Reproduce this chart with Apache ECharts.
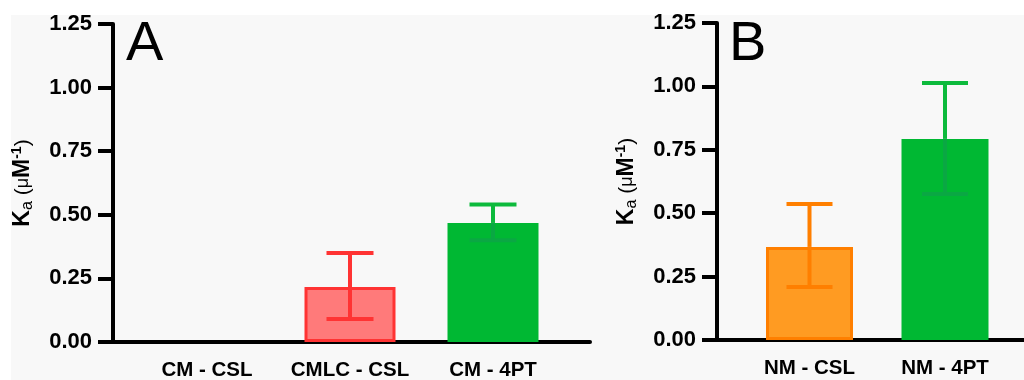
<!DOCTYPE html>
<html>
<head>
<meta charset="utf-8">
<script src="https://cdn.jsdelivr.net/npm/echarts@6/dist/echarts.min.js"></script>
<style>
html,body{margin:0;padding:0;background:#ffffff;}
#c{width:1024px;height:380px;}
</style>
</head>
<body>
<div id="c"></div>
<script>
// ---- data ----
const categoriesA = ['CM - CSL', 'CMLC - CSL', 'CM - 4PT'];
const valuesA     = [null, 0.216, 0.468];
const errLowA     = [null, 0.090, 0.400];
const errHighA    = [null, 0.350, 0.540];

const categoriesB = ['NM - CSL', 'NM - 4PT'];
const valuesB     = [0.367, 0.793];
const errLowB     = [0.209, 0.576];
const errHighB    = [0.536, 1.013];

const yTicks = { min: 0, max: 1.25, interval: 0.25 };

// ---- styles ----
const fillA   = ['#ff7a7a', '#ff7a7a', '#00b833'];
const borderA = ['#ff3333', '#ff3333', '#00b833'];
const errUpA  = ['#ff3333', '#ff3333', '#0dba3c'];
const errDnA  = ['#ff3333', '#ff3333', '#0aa843'];
const fillB   = ['#ff9b22', '#00b833'];
const borderB = ['#ff7f00', '#00b833'];
const errUpB  = ['#ff7f00', '#0dba3c'];
const errDnB  = ['#ff7f00', '#0aa843'];

const FONT = '"Liberation Sans", Arial, Helvetica, sans-serif';

function yAxisVisible(gi) {
  return {
    type: 'value', gridIndex: gi, min: yTicks.min, max: yTicks.max, interval: yTicks.interval,
    axisLine: { show: true, lineStyle: { color: '#000', width: 4 } },
    axisTick: { show: true, length: 15, lineStyle: { color: '#000', width: 4 } },
    axisLabel: { show: true, margin: 21, color: '#000', fontSize: 22, fontWeight: 'bold', fontFamily: FONT,
      formatter: v => v.toFixed(2) },
    splitLine: { show: false },
    name: '{k|K}{sub|a}{p| (}{mu|μ}{k|M}{sup|-1}{p|)}',
    nameLocation: 'middle', nameRotate: 90, nameGap: 77,
    nameTextStyle: {
      color: '#000', fontFamily: FONT,
      rich: {
        k:   { fontSize: 23, fontWeight: 'bold', fontFamily: FONT, color: '#000', lineHeight: 26, verticalAlign: 'middle' },
        sub: { fontSize: 16, fontFamily: FONT, color: '#000', lineHeight: 26, verticalAlign: 'bottom', padding: [10, 0, 0, 0] },
        p:   { fontSize: 21, fontFamily: FONT, color: '#000', lineHeight: 26, verticalAlign: 'middle' },
        mu:  { fontSize: 18, fontFamily: FONT, color: '#000', lineHeight: 26, verticalAlign: 'middle' },
        sup: { fontSize: 14, fontWeight: 'bold', fontFamily: FONT, color: '#000', lineHeight: 26, verticalAlign: 'top', padding: [0, 0, 8, 0] }
      }
    }
  };
}
function yAxisHidden(gi) {
  return { type: 'value', gridIndex: gi, min: yTicks.min, max: yTicks.max, interval: yTicks.interval, show: false };
}
function xAxisLine(gi) {
  return { type: 'value', gridIndex: gi, min: 0, max: 1,
    axisLine: { show: true, onZero: false, lineStyle: { color: '#000', width: 4 } },
    axisTick: { show: false }, axisLabel: { show: false }, splitLine: { show: false } };
}
function xAxisCat(gi, cats) {
  return { type: 'category', gridIndex: gi, data: cats,
    axisLine: { show: false }, axisTick: { show: false }, splitLine: { show: false },
    axisLabel: { show: true, interval: 0, margin: 18, color: '#000', fontSize: 20.5, fontWeight: 'bold', fontFamily: FONT } };
}
function barData(vals, fills, borders) {
  return vals.map((v, i) => v == null ? '-' : ({ value: v, itemStyle: { color: fills[i], borderColor: borders[i], borderWidth: 3 } }));
}
function errData(vals, lo, hi) {
  const out = [];
  vals.forEach((v, i) => { if (v != null) out.push([i, lo[i], hi[i], v]); });
  return out;
}
function errRender(up, dn, capHalf) {
  return function (params, api) {
    const i = api.value(0);
    const pLo = api.coord([i, api.value(1)]);
    const pHi = api.coord([i, api.value(2)]);
    const pV  = api.coord([i, api.value(3)]);
    const x = pLo[0];
    const su = { stroke: up[i], lineWidth: 4 };
    const sd = { stroke: dn[i], lineWidth: 4 };
    return { type: 'group', children: [
      { type: 'line', shape: { x1: x, y1: pHi[1], x2: x, y2: pV[1] }, style: su },
      { type: 'line', shape: { x1: x, y1: pV[1], x2: x, y2: pLo[1] }, style: sd },
      { type: 'line', shape: { x1: x - capHalf, y1: pHi[1], x2: x + capHalf, y2: pHi[1] }, style: su },
      { type: 'line', shape: { x1: x - capHalf, y1: pLo[1], x2: x + capHalf, y2: pLo[1] }, style: sd }
    ] };
  };
}

const chart = echarts.init(document.getElementById('c'), null, { renderer: 'canvas' });
chart.setOption({
  animation: false,
  backgroundColor: '#ffffff',
  graphic: [
    { type: 'rect', z: -1, shape: { x: 11, y: 15, width: 1013, height: 365 }, style: { fill: '#f8f8f8' } },
    { type: 'text', x: 126, y: 45, style: { text: 'A', fontSize: 56, fontFamily: FONT, fill: '#000', verticalAlign: 'middle', align: 'left' } },
    { type: 'text', x: 729, y: 45, style: { text: 'B', fontSize: 56, fontFamily: FONT, fill: '#000', verticalAlign: 'middle', align: 'left' } }
  ],
  grid: [
    { left: 113, width: 477, top: 24, height: 318, outerBoundsMode: 'none', containLabel: false },
    { left: 135.5, width: 429, top: 24, height: 318, outerBoundsMode: 'none', containLabel: false },
    { left: 717, width: 320, top: 23, height: 317, outerBoundsMode: 'none', containLabel: false },
    { left: 741.75, width: 271, top: 23, height: 317, outerBoundsMode: 'none', containLabel: false }
  ],
  xAxis: [ xAxisLine(0), xAxisCat(1, categoriesA), xAxisLine(2), xAxisCat(3, categoriesB) ],
  yAxis: [ yAxisVisible(0), yAxisHidden(1), yAxisVisible(2), yAxisHidden(3) ],
  series: [
    { type: 'bar', xAxisIndex: 1, yAxisIndex: 1, barWidth: 91, data: barData(valuesA, fillA, borderA), z: 2 },
    { type: 'custom', xAxisIndex: 1, yAxisIndex: 1, renderItem: errRender(errUpA, errDnA, 23.5), data: errData(valuesA, errLowA, errHighA), z: 5 },
    { type: 'bar', xAxisIndex: 3, yAxisIndex: 3, barWidth: 87, data: barData(valuesB, fillB, borderB), z: 2 },
    { type: 'custom', xAxisIndex: 3, yAxisIndex: 3, renderItem: errRender(errUpB, errDnB, 23), data: errData(valuesB, errLowB, errHighB), z: 5 }
  ]
});
</script>
</body>
</html>
